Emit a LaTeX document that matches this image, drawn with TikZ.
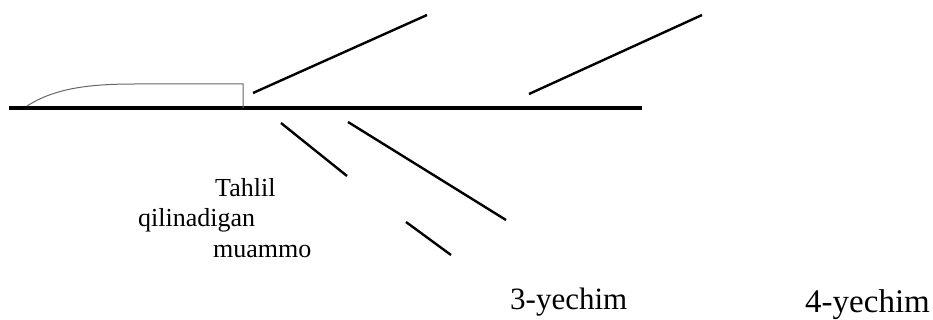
\documentclass[tikz,border=0pt]{standalone}
\usepackage{fontspec}
\setmainfont{Liberation Serif}
\usepackage{tikz}
\usetikzlibrary{positioning}

\begin{document}
\begin{tikzpicture}[x=1pt, y=-1pt,
        gräte/.style={line width=2.4pt, black},
        achse/.style={line width=4.5pt, black},
        kopf/.style={line width=1pt, black!60},
        txt/.style={anchor=base west, inner sep=0pt, font=\fontsize{26}{30}\selectfont},
        loes/.style={anchor=base west, inner sep=0pt, font=\fontsize{31}{36}\selectfont}]
        %Bildbereich
        \useasboundingbox (0,0) rectangle (933,320);
        % Hauptachse zeichnen
        \draw[achse] (9,108) -- (642,108);
        % Kopf
        \draw[kopf] (27,106) .. controls (55,88) and (90,84) .. (135,84) -- (243,84) -- (243,108);
        % Gräten oben
        \draw[gräte] (253,93) -- (427,15);
        \draw[gräte] (529,94) -- (702,15);
        % Gräten unten
        \draw[gräte] (281,123) -- (347,176);
        \draw[gräte] (348,122) -- (506,220);
        \draw[gräte] (406,222) -- (451,255);
        %Beschriftung
        \node[txt] (tahlil) at (215,197) {Tahlil};
        \node[txt] (qilin) at (138,226) {qilinadigan};
        \node[txt] (muammo) at (213,257) {muammo};
        \node[loes] (y3) at (510,309) {3-yechim};
        \node[loes, font=\fontsize{33}{38}\selectfont] (y4) at (805,312) {4-yechim};
\end{tikzpicture}
\end{document}
